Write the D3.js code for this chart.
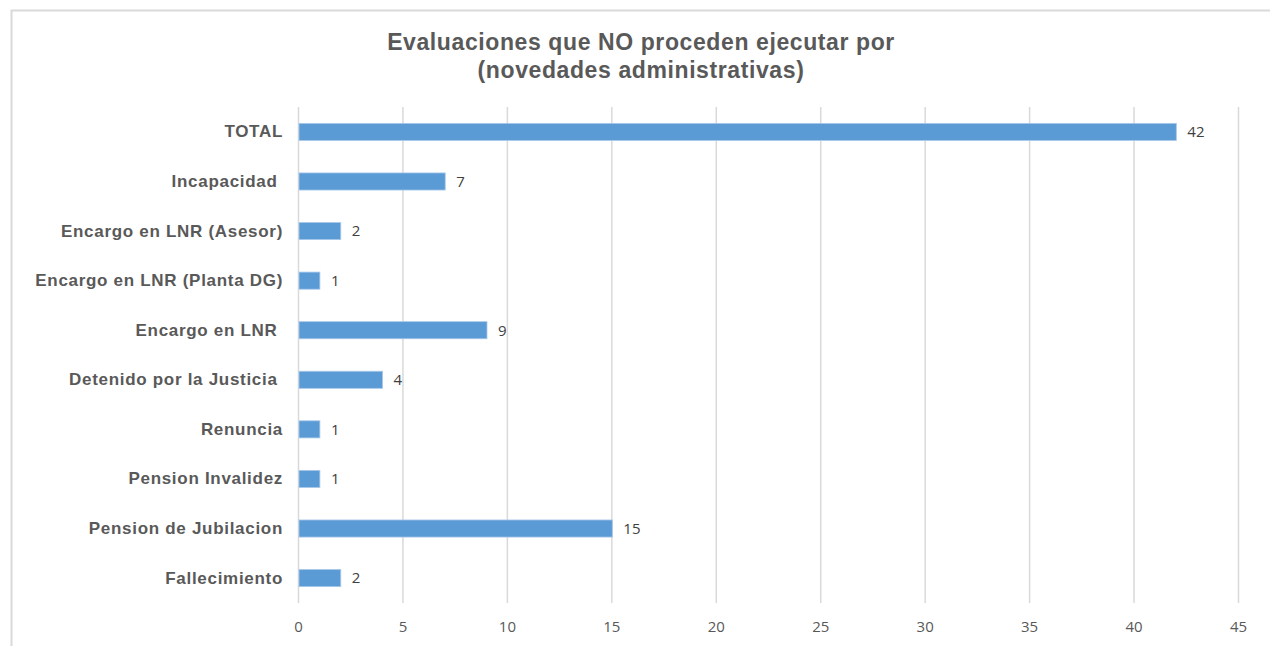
<!DOCTYPE html>
<html>
<head>
<meta charset="utf-8">
<script src="https://cdn.jsdelivr.net/npm/d3@7"></script>
<style>
  body { margin: 0; background: #fff; }
  svg { display: block; }
</style>
</head>
<body>
<div id="chart"></div>
<script>
// chart data, top row first
const categories = [
  'TOTAL',
  'Incapacidad ',
  'Encargo en LNR (Asesor)',
  'Encargo en LNR (Planta DG)',
  'Encargo en LNR ',
  'Detenido por la Justicia ',
  'Renuncia',
  'Pension Invalidez',
  'Pension de Jubilacion',
  'Fallecimiento',
];
const values = [42, 7, 2, 1, 9, 4, 1, 1, 15, 2];
const xTicks = [0, 5, 10, 15, 20, 25, 30, 35, 40, 45];
const titleLines = ['Evaluaciones que NO proceden ejecutar por', '(novedades administrativas)'];

const width = 1270;
const height = 646;
const margin = { top: 107, right: 32, bottom: 43, left: 298 };

const svg = d3.select('#chart')
  .append('svg')
  .attr('width', width)
  .attr('height', height);

// outer frame (only top/left visible in the crop)
svg.append('rect')
  .attr('x', 11.5)
  .attr('y', 10.5)
  .attr('width', width + 20)
  .attr('height', height + 20)
  .attr('fill', 'none')
  .attr('stroke', '#d9d9d9')
  .attr('stroke-width', 2);

svg.append('text')
  .attr('x', 641)
  .attr('y', 50)
  .attr('text-anchor', 'middle')
  .style('font-family', '"Liberation Sans", Arial, sans-serif')
  .style('font-weight', 'bold')
  .style('font-size', '23px')
  .style('letter-spacing', '0.6px')
  .style('fill', '#595959')
  .selectAll('tspan')
  .data(titleLines)
  .enter()
  .append('tspan')
  .attr('x', 641)
  .attr('dy', (d, i) => (i === 0 ? 0 : 28))
  .text((d) => d);

const x = d3.scaleLinear()
  .domain([0, 45])
  .range([margin.left, width - margin.right]);

const y = d3.scaleBand()
  .domain(categories)
  .range([margin.top, height - margin.bottom])
  .paddingInner(0.655)
  .paddingOuter(0.33);

// gridlines
svg.append('g')
  .selectAll('line')
  .data(xTicks)
  .enter()
  .append('line')
  .attr('x1', (d) => x(d) + 0.5)
  .attr('x2', (d) => x(d) + 0.5)
  .attr('y1', margin.top)
  .attr('y2', height - margin.bottom)
  .attr('stroke', '#d9d9d9')
  .attr('stroke-width', 1.5);

// x axis labels
const xAxis = svg.append('g')
  .attr('transform', `translate(0,${height - margin.bottom})`)
  .call(d3.axisBottom(x).tickValues(xTicks).tickSize(0).tickPadding(18));
xAxis.select('.domain').remove();
xAxis.selectAll('text')
  .style('font-family', '"Open Sans", "DejaVu Sans", sans-serif')
  .style('font-size', '15px')
  .style('fill', '#595959');

// y axis labels
const yAxis = svg.append('g')
  .attr('transform', `translate(${margin.left},0)`)
  .call(d3.axisLeft(y).tickSize(0).tickPadding(15));
yAxis.select('.domain').remove();
yAxis.selectAll('text')
  .style('white-space', 'pre')
  .style('font-family', '"Liberation Sans", Arial, sans-serif')
  .style('font-weight', 'bold')
  .style('font-size', '17px')
  .style('letter-spacing', '0.7px')
  .style('fill', '#595959');

// bars
svg.append('g')
  .selectAll('rect')
  .data(values)
  .enter()
  .append('rect')
  .attr('x', x(0) + 1)
  .attr('y', (d, i) => y(categories[i]))
  .attr('width', (d) => x(d) - x(0))
  .attr('height', y.bandwidth())
  .attr('fill', '#5b9bd5')
  .attr('stroke', '#a9c8ea')
  .attr('stroke-width', 0.8);

// value labels
svg.append('g')
  .selectAll('text')
  .data(values)
  .enter()
  .append('text')
  .attr('x', (d) => x(d) + 12)
  .attr('y', (d, i) => y(categories[i]) + y.bandwidth() / 2)
  .attr('dy', '0.36em')
  .style('font-family', '"Open Sans", "DejaVu Sans", sans-serif')
  .style('font-size', '15px')
  .style('fill', '#404040')
  .text((d) => d);
</script>
</body>
</html>
